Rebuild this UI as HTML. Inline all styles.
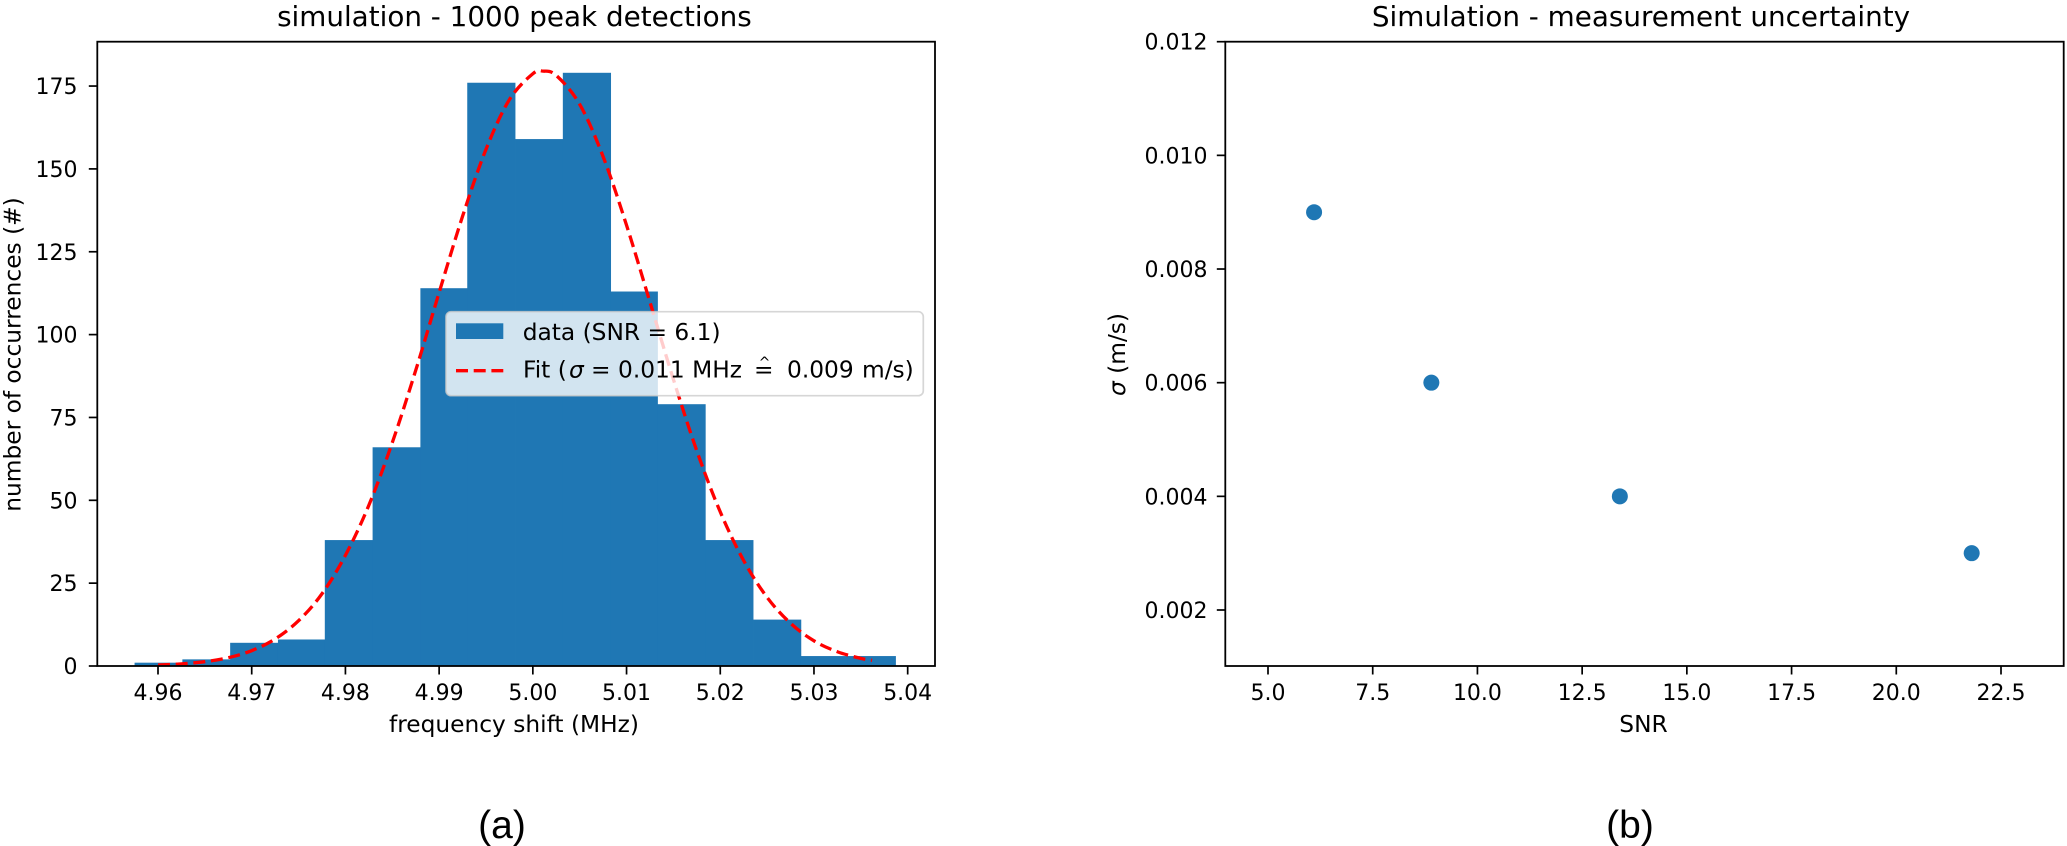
<!DOCTYPE html>
<html lang="en">
<head>
<meta charset="utf-8">
<title>Simulation charts</title>
<style>
html,body{margin:0;padding:0;background:#fff;width:2067px;height:846px;overflow:hidden}
svg{display:block}
text{font-family:"DejaVu Sans","Liberation Sans",sans-serif;fill:#000}
.tick{font-size:22px}
.title{font-size:27.8px}
.label{font-size:23.3px}
.caption{font-family:"Liberation Sans",sans-serif;font-size:39px}
</style>
</head>
<body>
<svg id="figure" xmlns="http://www.w3.org/2000/svg" width="2067" height="846" viewBox="0 0 2067 846">
  <rect x="0" y="0" width="2067" height="846" fill="#fff"/>
  <g id="panelA">
    <g id="bars"></g>
    <path id="fitLine" fill="none" stroke="#ff0000" stroke-width="3.3" stroke-dasharray="12 5.7"/>
    <g id="axesA"></g>
    <rect x="97.3" y="41.7" width="837.7" height="624.3" fill="none" stroke="#000" stroke-width="1.8"/>
    <text class="title" x="514.4" y="26" text-anchor="middle">simulation - 1000 peak detections</text>
    <text class="label" x="514" y="732" text-anchor="middle">frequency shift (MHz)</text>
    <text class="label" transform="translate(20.5 354.5) rotate(-90)" text-anchor="middle">number of occurrences (#)</text>
    <g>
      <rect x="446" y="311.7" width="477.3" height="84" rx="5" ry="5" fill="#fff" fill-opacity="0.8" stroke="#ccc" stroke-opacity="0.8" stroke-width="1.7"/>
      <rect x="456" y="323.3" width="47.3" height="15.7" fill="#1f77b4"/>
      <line x1="456" y1="370.7" x2="503.3" y2="370.7" stroke="#ff0000" stroke-width="3.3" stroke-dasharray="12 5.7"/>
      <text class="label" x="522.7" y="340">data (SNR = 6.1)</text>
      <text class="label" y="377.7"><tspan x="523">Fit (</tspan><tspan x="569" font-style="italic">σ</tspan><tspan x="591">=</tspan><tspan x="618">0.011 MHz</tspan><tspan x="754">=</tspan><tspan x="787">0.009</tspan><tspan x="862">m/s)</tspan></text>
      <text x="764.5" y="367" text-anchor="middle" font-size="14">^</text>
    </g>
  </g>
  <g id="panelB">
    <g id="points"></g>
    <g id="axesB"></g>
    <rect x="1225.3" y="41.7" width="838.4" height="624.3" fill="none" stroke="#000" stroke-width="1.8"/>
    <text class="title" x="1641" y="26" text-anchor="middle">Simulation - measurement uncertainty</text>
    <text class="label" x="1643.5" y="732" text-anchor="middle">SNR</text>
    <text class="label" transform="translate(1125 354.5) rotate(-90)" text-anchor="middle"><tspan font-style="italic">σ</tspan> (m/s)</text>
  </g>
  <text class="caption" x="502" y="838" text-anchor="middle">(a)</text>
  <text class="caption" x="1630" y="838" text-anchor="middle">(b)</text>
</svg>
<script>
const binEdges = [4.9575,4.9626,4.9677,4.9728,4.9778,4.9829,4.9880,4.9930,4.9981,5.0032,5.0083,5.0133,5.0184,5.0235,5.0286,5.0336,5.0387];
const binCounts = [1,2,7,8,38,66,114,176,159,179,113,79,38,14,3,3];
const fitX = [4.96,4.9625,4.965,4.9675,4.97,4.9725,4.975,4.9775,4.98,4.9825,4.985,4.9875,4.99,4.9925,4.995,4.9975,5.0,5.0011,5.0025,5.005,5.0075,5.01,5.0125,5.015,5.0175,5.02,5.0225,5.025,5.0275,5.03,5.0325,5.035,5.0362];
const fitY = [0.3,0.64,1.3,2.51,4.63,8.15,13.66,21.8,33.4,48.5,67.4,89.2,112.7,135.7,155.9,170.9,178.7,179.5,178.2,169.5,153.7,133.0,109.8,86.5,64.9,46.5,31.8,20.7,12.9,7.6,4.3,2.3,1.7];
const histXTicks = [4.96,4.97,4.98,4.99,5.00,5.01,5.02,5.03,5.04];
const histYTicks = [0,25,50,75,100,125,150,175];
const snrValues = [6.1,8.9,13.4,21.8];
const sigmaValues = [0.009,0.006,0.004,0.003];
const snrTicks = [5,7.5,10,12.5,15,17.5,20,22.5];
const sigmaTicks = [0.002,0.004,0.006,0.008,0.010,0.012];

const NS = 'http://www.w3.org/2000/svg';
function histX(v){return 158 + (v - 4.96) * 9371;}
function histY(v){return 666 - v * 3.314;}
function snrX(v){return 1268 + (v - 5) * 41.886;}
function sigmaY(v){return 610 - (v - 0.002) * 56830;}

function make(tag, attrs, parent){
  const el = document.createElementNS(NS, tag);
  for (const k in attrs) el.setAttribute(k, attrs[k]);
  parent.appendChild(el);
  return el;
}

const barsGroup = document.getElementById('bars');
binCounts.forEach(function(count, i){
  const x0 = histX(binEdges[i]);
  const x1 = histX(binEdges[i + 1]);
  const top = histY(count);
  const el = make('rect', {x: x0, y: top, width: x1 - x0 + 0.4, height: histY(0) - top, fill: '#1f77b4'}, barsGroup);
  
  
});

let fitPts = fitX.map(function(x, i){return [histX(x), histY(fitY[i])];});
let fitPath = 'M' + fitPts[0][0] + ' ' + fitPts[0][1];
for (let i = 0; i < fitPts.length - 1; i++) {
  const p0 = fitPts[Math.max(i - 1, 0)], p1 = fitPts[i], p2 = fitPts[i + 1], p3 = fitPts[Math.min(i + 2, fitPts.length - 1)];
  const c1x = p1[0] + (p2[0] - p0[0]) / 6, c1y = p1[1] + (p2[1] - p0[1]) / 6;
  const c2x = p2[0] - (p3[0] - p1[0]) / 6, c2y = p2[1] - (p3[1] - p1[1]) / 6;
  fitPath += ' C' + c1x + ' ' + c1y + ' ' + c2x + ' ' + c2y + ' ' + p2[0] + ' ' + p2[1];
}
document.getElementById('fitLine').setAttribute('d', fitPath);

const axesA = document.getElementById('axesA');
histXTicks.forEach(function(v){
  const x = histX(v);
  const tick = make('line', {x1: x, x2: x, y1: 666, y2: 674.5, stroke: '#000', 'stroke-width': 1.7}, axesA);
  
  
  const label = make('text', {x: x, y: 700, 'text-anchor': 'middle', class: 'tick'}, axesA);
  
  
  label.textContent = v.toFixed(2);
});
histYTicks.forEach(function(v){
  const y = histY(v);
  const tick = make('line', {x1: 97.3, x2: 88.8, y1: y, y2: y, stroke: '#000', 'stroke-width': 1.7}, axesA);
  
  
  const label = make('text', {x: 77.5, y: y + 8, 'text-anchor': 'end', class: 'tick'}, axesA);
  
  
  label.textContent = String(v);
});

const pointsGroup = document.getElementById('points');
snrValues.forEach(function(s, i){
  const dot = make('circle', {cx: snrX(s), cy: sigmaY(sigmaValues[i]), r: 8, fill: '#1f77b4'}, pointsGroup);
  
  
});

const axesB = document.getElementById('axesB');
snrTicks.forEach(function(v){
  const x = snrX(v);
  const tick = make('line', {x1: x, x2: x, y1: 666, y2: 674.5, stroke: '#000', 'stroke-width': 1.7}, axesB);
  
  
  const label = make('text', {x: x, y: 700, 'text-anchor': 'middle', class: 'tick'}, axesB);
  
  
  label.textContent = v.toFixed(1);
});
sigmaTicks.forEach(function(v){
  const y = sigmaY(v);
  const tick = make('line', {x1: 1225.3, x2: 1216.8, y1: y, y2: y, stroke: '#000', 'stroke-width': 1.7}, axesB);
  
  
  const label = make('text', {x: 1207.5, y: y + 8, 'text-anchor': 'end', class: 'tick'}, axesB);
  
  
  label.textContent = v.toFixed(3);
});
</script>
</body>
</html>
